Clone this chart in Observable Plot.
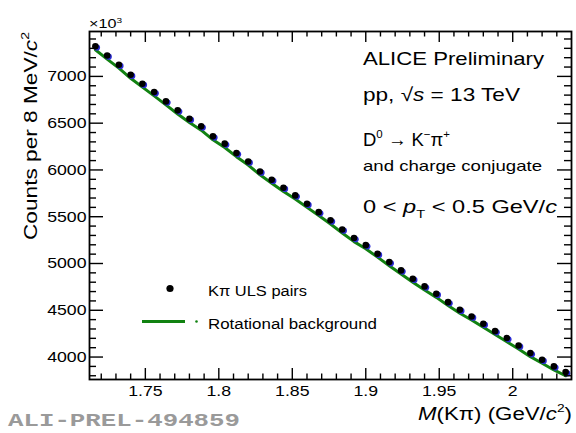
<!DOCTYPE html>
<html><head><meta charset="utf-8">
<script src="https://cdn.jsdelivr.net/npm/d3@7"></script>
<script src="https://cdn.jsdelivr.net/npm/@observablehq/plot@0.6"></script>
<style>body{margin:0;background:#fff}svg{display:block}</style>
</head><body><div id="chart"></div>
<script>
// ---- data ----
const massBins = [1.716,1.724,1.732,1.740,1.748,1.756,1.764,1.772,1.780,1.788,1.796,1.804,1.812,1.820,1.828,1.836,1.844,1.852,1.860,1.868,1.876,1.884,1.892,1.900,1.908,1.916,1.924,1.932,1.940,1.948,1.956,1.964,1.972,1.980,1.988,1.996,2.004,2.012,2.020,2.028,2.036];
const ulsCounts = [7321,7224,7125,7018,6922,6832,6733,6637,6548,6466,6359,6281,6180,6091,5984,5896,5810,5728,5639,5549,5461,5364,5272,5196,5105,5015,4926,4837,4755,4677,4587,4506,4434,4356,4277,4203,4124,4042,3971,3900,3839];
const rotBackground = [7285,7185,7088,6980,6885,6792,6695,6598,6508,6425,6322,6240,6142,6052,5948,5858,5770,5690,5600,5512,5422,5326,5234,5158,5068,4976,4888,4800,4716,4638,4550,4468,4396,4318,4240,4164,4086,4004,3934,3862,3800];
const xMajorTicks = [1.75,1.8,1.85,1.9,1.95,2];
const xMinorTicks = [1.72,1.73,1.74,1.76,1.77,1.78,1.79,1.81,1.82,1.83,1.84,1.86,1.87,1.88,1.89,1.91,1.92,1.93,1.94,1.96,1.97,1.98,1.99,2.01,2.02,2.03];
const yMajorTicks = [4000,4500,5000,5500,6000,6500,7000];
const yMinorTicks = [3800,3900,4100,4200,4300,4400,4600,4700,4800,4900,5100,5200,5300,5400,5600,5700,5800,5900,6100,6200,6300,6400,6600,6700,6800,6900,7100,7200,7300,7400];
const xTickLabels = ["1.75","1.8","1.85","1.9","1.95","2"];
const yTickLabels = ["4000","4500","5000","5500","6000","6500","7000"];

const table = massBins.map((m,i)=>({m, c: ulsCounts[i], bg: rotBackground[i]}));

const W=576, H=433, mL=89, mT=31, mR=5, mB=54;
const iW=W-mL-mR, iH=H-mT-mB;
const FONT = "Liberation Sans, Arial, Helvetica, sans-serif";

const plot = Plot.plot({
  width: W, height: H,
  marginLeft: mL, marginTop: mT, marginRight: mR, marginBottom: mB,
  style: {fontFamily: FONT, background: "#fff", color: "#000"},
  x: {domain: [1.712, 2.04]},
  y: {domain: [3760, 7480]},
  marks: [
    Plot.line(table, {x: "m", y: "bg", stroke: "#118211", strokeWidth: 3}),
    Plot.dot(table, {x: "m", y: "c", r: 3.1, fill: "#2b2bd6", dx: 1.6, dy: 1.2}),
    Plot.dot(table, {x: "m", y: "c", r: 3.3, fill: "#000"}),
    // inward ROOT-style ticks
    Plot.tickX(xMajorTicks, {x: d=>d, insetTop: iH-11, stroke: "#000", strokeWidth: 1.4}),
    Plot.tickX(xMajorTicks, {x: d=>d, insetBottom: iH-11, stroke: "#000", strokeWidth: 1.4}),
    Plot.tickX(xMinorTicks, {x: d=>d, insetTop: iH-5.5, stroke: "#000", strokeWidth: 1.4}),
    Plot.tickX(xMinorTicks, {x: d=>d, insetBottom: iH-5.5, stroke: "#000", strokeWidth: 1.4}),
    Plot.tickY(yMajorTicks, {y: d=>d, insetRight: iW-14, stroke: "#000", strokeWidth: 1.4}),
    Plot.tickY(yMajorTicks, {y: d=>d, insetLeft: iW-14, stroke: "#000", strokeWidth: 1.4}),
    Plot.tickY(yMinorTicks, {y: d=>d, insetRight: iW-7, stroke: "#000", strokeWidth: 1.4}),
    Plot.tickY(yMinorTicks, {y: d=>d, insetLeft: iW-7, stroke: "#000", strokeWidth: 1.4}),
    Plot.frame({stroke: "#000", strokeWidth: 1.8}),
    Plot.axisX({ticks: xMajorTicks, tickSize: 0, tickPadding: 6, fontSize: 15, label: null,
      tickFormat: (d,i)=>xTickLabels[xMajorTicks.indexOf(d)]}),
    Plot.axisY({ticks: yMajorTicks, tickSize: 0, tickPadding: 3, fontSize: 15, label: null,
      tickFormat: d=>yTickLabels[yMajorTicks.indexOf(d)]})
  ]
});
document.getElementById("chart").appendChild(plot);

// stretch tick labels horizontally like the reference
plot.querySelectorAll('g[aria-label="x-axis tick label"] text, g[aria-label="y-axis tick label"] text').forEach(t=>{
  const tr = t.getAttribute("transform");
  if (tr) t.setAttribute("transform", tr + " scale(1.18,1)");
});

const svg = d3.select(plot);
const g = svg.append("g");

function rich(x, y, size, parts, o={}) {
  const t = g.append("text").attr("x", x).attr("y", y).attr("font-size", size)
    .attr("font-family", o.family || FONT)
    .attr("text-anchor", o.anchor || "start").attr("fill", o.fill || "#000");
  if (o.weight) t.attr("font-weight", o.weight);
  if (o.rotate) t.attr("transform", `rotate(${o.rotate},${x},${y})`);
  let shift = 0;
  for (const p of parts) {
    const [s, st] = typeof p === "string" ? [p, {}] : p;
    const ts = t.append("tspan").text(s);
    let target = 0, fs = size;
    if (st.sup) { target = -size*0.42; fs = size*0.62; }
    if (st.sub) { target = size*0.28; fs = size*0.62; }
    if (target !== shift) ts.attr("dy", target - shift);
    shift = target;
    if (fs !== size) ts.attr("font-size", fs);
    if (st.italic) ts.attr("font-style", "italic");
  }
  if (o.length) t.attr("textLength", o.length).attr("lengthAdjust", "spacingAndGlyphs");
  return t;
}

// exponent
rich(89, 28, 13, ["×10", ["3", {sup: true}]], {length: 33});
// y title
rich(37, 136, 19, ["Counts per 8 MeV/", ["c", {italic: true}], ["2", {sup: true}]], {anchor: "middle", rotate: -90, length: 208});
// x title
rich(572, 420, 18, [["M", {italic: true}], "(Kπ) (GeV/", ["c", {italic: true}], ["2", {sup: true}], ")"], {anchor: "end", length: 154});
// top-right block
rich(363, 65, 18.5, ["ALICE Preliminary"], {length: 181});
rich(363, 101, 18.5, ["pp, √", ["s", {italic: true}], " = 13 TeV"], {length: 157});
rich(363, 146, 18.5, ["D", ["0", {sup: true}], " → K", ["−", {sup: true}], "π", ["+", {sup: true}]], {length: 87});
rich(363, 171, 15, ["and charge conjugate"], {length: 179});
rich(363, 213, 18.5, ["0 < ", ["p", {italic: true}], ["T", {sub: true}], " < 0.5 GeV/", ["c", {italic: true}]], {length: 194});
// legend
g.append("circle").attr("cx", 170).attr("cy", 288.5).attr("r", 3.6).attr("fill", "#000");
rich(208, 296, 14, ["Kπ ULS pairs"], {length: 99});
g.append("line").attr("x1", 142).attr("x2", 185).attr("y1", 321.5).attr("y2", 321.5).attr("stroke", "#118211").attr("stroke-width", 3);
g.append("circle").attr("cx", 196.5).attr("cy", 321.5).attr("r", 1.3).attr("fill", "#118211");
rich(208, 329, 14, ["Rotational background"], {length: 169});
// preliminary tag
rich(8, 426, 19, ["ALI-PREL-494859"], {family: "Liberation Mono, Courier New, monospace", weight: "bold", fill: "#9a9a9a", length: 232});
</script>
</body></html>
